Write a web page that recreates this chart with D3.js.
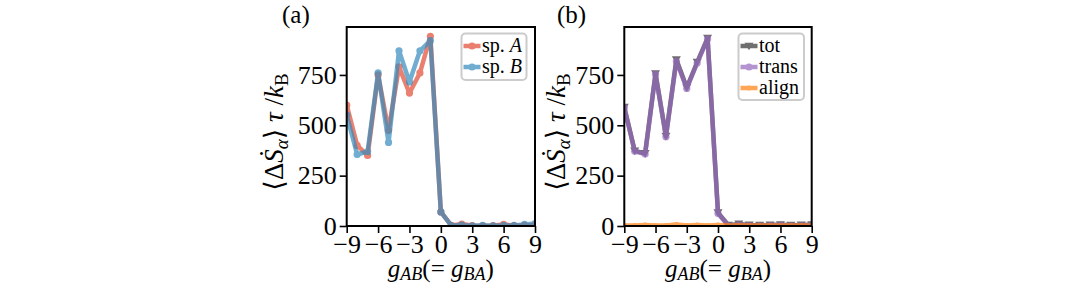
<!DOCTYPE html>
<html>
<head>
<meta charset="utf-8">
<script src="https://cdn.jsdelivr.net/npm/d3@7"></script>
<style>
  body { margin: 0; background: #fff; }
  svg text { font-family: "Liberation Serif", "DejaVu Serif", serif; fill: #000; }
</style>
</head>
<body>
<div id="chart"></div>
<script>
// coupling values on the x axis
var gAB = [-9, -8, -7, -6, -5, -4, -3, -2, -1, 0, 1, 2, 3, 4, 5, 6, 7, 8, 9];
var xTicks = [-9, -6, -3, 0, 3, 6, 9];
var yTicks = [0, 250, 500, 750];

// panel (a): entropy production per species
var spA = [600, 400, 350, 750, 475, 790, 660, 760, 942, 70, 3, 10, 2, 1, 2, 8, 2, 3, 5];
var spB = [550, 355, 370, 760, 415, 870, 715, 870, 920, 70, 2, 4, 1, 3, 1, 3, 3, 8, 12];

// panel (b): contributions
var tot = [590, 373, 360, 757, 446, 826, 687, 813, 933, 66, 4, 10, 5, 4, 5, 7, 4, 5, 7];
var trans = [587, 371, 357, 754, 443, 818, 683, 809, 929, 62, 1, 6, 2, 1, 2, 4, 1, 2, 4];
var align = [3, 2, 5, 2, 3, 8, 3, 5, 3, 5, 3, 4, 3, 3, 2, 3, 3, 3, 3];

var W = 1081, H = 285;
var svg = d3.select("#chart").append("svg")
    .attr("width", W).attr("height", H);

function fmt(d) { return d < 0 ? "\u2212" + (-d) : "" + d; }

function drawPanel(opt) {
    var left = opt.left, right = opt.right, top = 27, bottom = 226;
    var x = d3.scaleLinear().domain([-9, 9]).range([left, right]);
    var y = d3.scaleLinear().domain([0, 988]).range([bottom, top]);

    var clipId = "clip" + opt.id;
    svg.append("clipPath").attr("id", clipId)
        .append("rect")
        .attr("x", left).attr("y", top)
        .attr("width", right - left).attr("height", bottom - top);

    var plot = svg.append("g").attr("clip-path", "url(#" + clipId + ")");
    var line = d3.line()
        .x(function (d, i) { return x(gAB[i]); })
        .y(function (d) { return y(d); });

    opt.series.forEach(function (s) {
        var g = plot.append("g").attr("opacity", 0.7);
        g.append("path")
            .attr("d", line(s.values))
            .attr("fill", "none")
            .attr("stroke", s.color)
            .attr("stroke-width", 4.5)
            .attr("stroke-linejoin", "round");
        g.selectAll("m")
            .data(s.values)
            .enter()
            .append("path")
            .attr("transform", function (d, i) { return "translate(" + x(gAB[i]) + "," + y(d) + ")"; })
            .attr("d", markerPath(s.marker, s.size))
            .attr("fill", s.color);
    });

    // axes
    var xAxis = svg.append("g")
        .attr("transform", "translate(0," + bottom + ")")
        .call(d3.axisBottom(x).tickValues(xTicks).tickFormat(fmt).tickSize(7).tickPadding(4));
    var yAxis = svg.append("g")
        .attr("transform", "translate(" + left + ",0)")
        .call(d3.axisLeft(y).tickValues(yTicks).tickSize(7).tickPadding(3));
    [xAxis, yAxis].forEach(function (a) {
        a.attr("font-family", null);
        a.select(".domain").remove();
        a.selectAll("line").attr("stroke", "#000").attr("stroke-width", 1.6);
        a.selectAll("text").style("font-size", "26px");
    });
    xAxis.selectAll("text").attr("dy", "0.6em");

    svg.append("rect")
        .attr("x", left).attr("y", top)
        .attr("width", right - left).attr("height", bottom - top)
        .attr("fill", "none").attr("stroke", "#000").attr("stroke-width", 2);

    // panel label
    svg.append("text")
        .attr("x", opt.labelX).attr("y", 23)
        .style("font-size", "25px")
        .text(opt.label);

    // x label
    var xl = svg.append("text")
        .attr("x", (left + right) / 2).attr("y", 277)
        .attr("text-anchor", "middle")
        .style("font-size", "25px");
    xl.append("tspan").attr("font-style", "italic").text("g");
    xl.append("tspan").attr("font-style", "italic").attr("font-size", "18px").attr("dy", 3).text("AB");
    xl.append("tspan").attr("dy", -3).text("(= ");
    xl.append("tspan").attr("font-style", "italic").text("g");
    xl.append("tspan").attr("font-style", "italic").attr("font-size", "18px").attr("dy", 3).text("BA");
    xl.append("tspan").attr("dy", -3).text(")");

    // y label
    var yl = svg.append("text")
        .attr("transform", "translate(" + opt.ylabelX + "," + 132 + ") rotate(-90)")
        .attr("text-anchor", "middle")
        .style("font-size", "27px");
    yl.append("tspan").text("\u27E8\u0394");
    yl.append("tspan").attr("font-style", "italic").text("\u1E60");
    yl.append("tspan").attr("font-style", "italic").attr("font-size", "19px").attr("dy", 5).text("\u03B1");
    yl.append("tspan").attr("dy", -5).text("\u27E9 ");
    yl.append("tspan").attr("font-style", "italic").text("\u03C4");
    yl.append("tspan").text(" /");
    yl.append("tspan").attr("font-style", "italic").text("k");
    yl.append("tspan").attr("font-size", "19px").attr("dy", 5).text("B");

    // legend
    var lg = svg.append("g");
    lg.append("rect")
        .attr("x", opt.legend.x).attr("y", 33.5)
        .attr("width", opt.legend.w).attr("height", opt.legend.h)
        .attr("rx", 4)
        .attr("fill", "#fff").attr("fill-opacity", 0.8)
        .attr("stroke", "#ccc").attr("stroke-width", 2);
    opt.series.forEach(function (s, i) {
        var ry = 46 + i * 21;
        var x0 = opt.legend.x + 2, x1 = x0 + 17;
        var g = lg.append("g").attr("opacity", 0.7);
        g.append("line")
            .attr("x1", x0).attr("x2", x1).attr("y1", ry).attr("y2", ry)
            .attr("stroke", s.color).attr("stroke-width", 4.5);
        g.append("path")
            .attr("transform", "translate(" + ((x0 + x1) / 2) + "," + ry + ")")
            .attr("d", markerPath(s.marker, s.size))
            .attr("fill", s.color);
        lg.append("text")
            .attr("x", x1 + 1.5).attr("y", ry + 6)
            .style("font-size", "20px")
            .html(s.label);
    });
}

function markerPath(type, size) {
    if (type === "tri") {
        return "M" + (-size) + "," + (-size * 0.75) + "L" + size + "," + (-size * 0.75) + "L0," + (size * 0.95) + "Z";
    }
    return d3.symbol().type(d3.symbolCircle).size(Math.PI * size * size)();
}

drawPanel({
    id: "a", left: 346.7, right: 535, label: "(a)", labelX: 282, ylabelX: 283,
    legend: { x: 461.5, w: 65, h: 46.5 },
    series: [
        { values: spA, color: "#E24A33", marker: "circle", size: 3.6, label: "sp. <tspan font-style='italic'>A</tspan>" },
        { values: spB, color: "#348ABD", marker: "circle", size: 3.6, label: "sp. <tspan font-style='italic'>B</tspan>" }
    ]
});

drawPanel({
    id: "b", left: 624.3, right: 811.7, label: "(b)", labelX: 557, ylabelX: 565,
    legend: { x: 738.5, w: 65.5, h: 66.5 },
    series: [
        { values: tot, color: "#333333", marker: "tri", size: 4.5, label: "tot" },
        { values: trans, color: "#9467BD", marker: "circle", size: 3.6, label: "trans" },
        { values: align, color: "#FF7F0E", marker: "circle", size: 2.5, label: "align" }
    ]
});
</script>
</body>
</html>
